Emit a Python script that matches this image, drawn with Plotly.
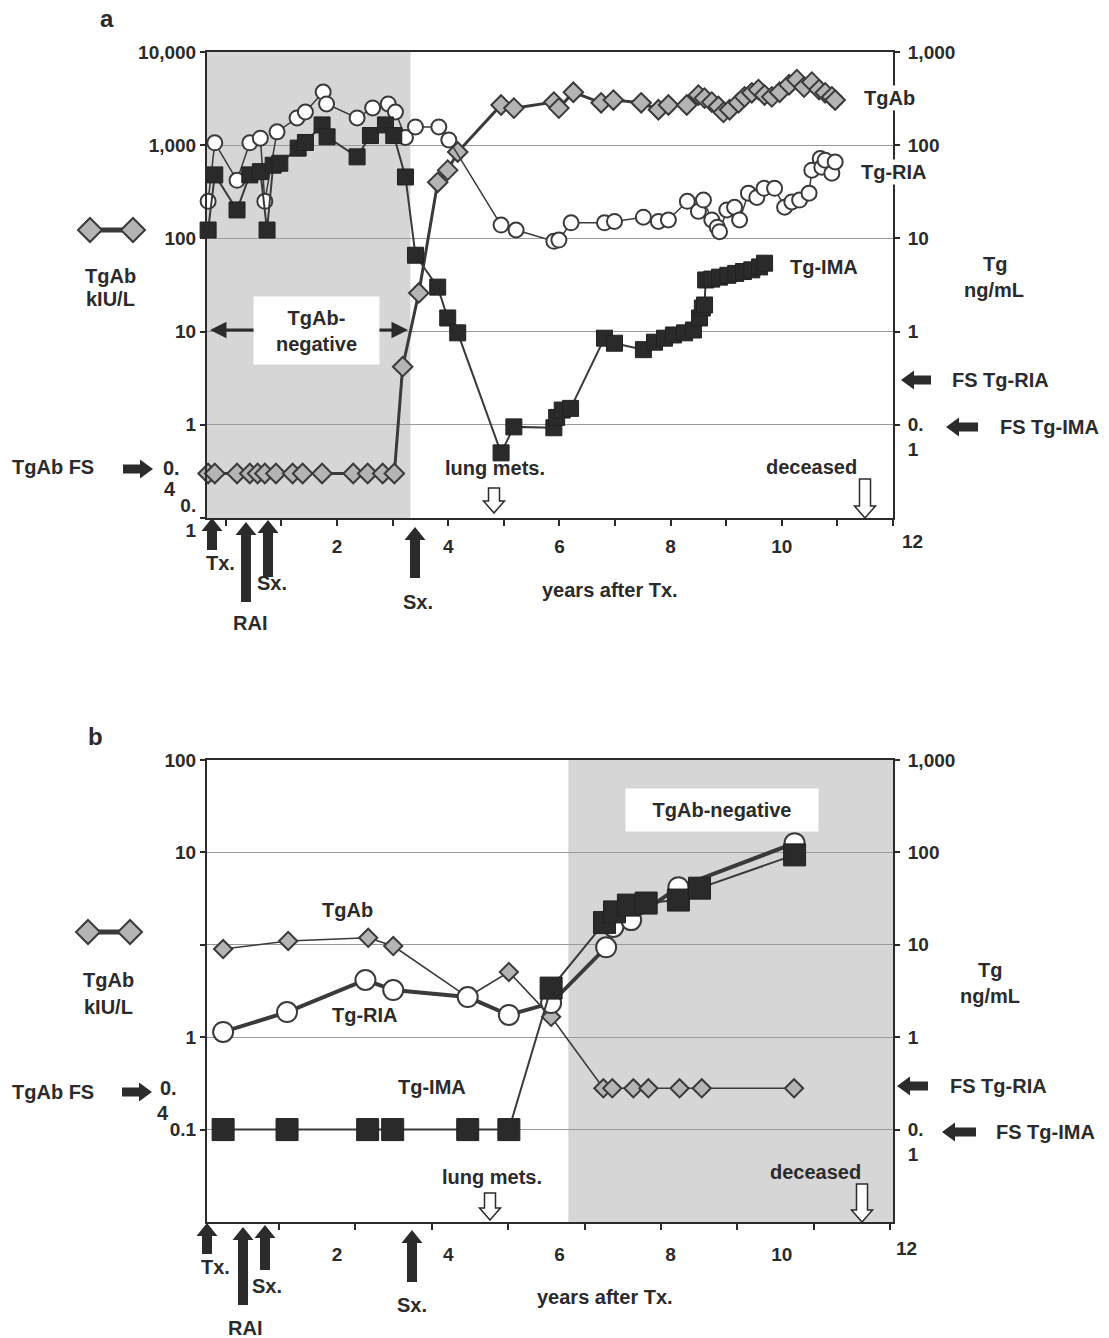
import plotly.graph_objects as go

W, H = 1109, 1338
FONT = "Liberation Sans"
INK = "#2b2b2b"
LINE = "#3a3a3a"
SHADE = "#d6d6d6"
DIAFILL = "#b4b4b4"

# ---------------- data: panel a ----------------
a_tgab_x = [-0.32, -0.20, 0.20, 0.43, 0.57, 0.70, 0.90, 1.20, 1.38, 1.73, 2.29, 2.55, 2.82, 3.03,
            3.18, 3.47, 3.81, 3.99, 4.17, 4.95, 5.18, 5.90, 5.99, 6.25, 6.75, 6.97, 7.47, 7.78, 7.96,
            8.29, 8.50, 8.61, 8.74, 8.86, 8.95, 9.06, 9.22, 9.33, 9.46, 9.58, 9.69, 9.82, 9.96,
            10.13, 10.27, 10.40, 10.54, 10.67, 10.78, 10.90, 10.96]
a_tgab_y = [0.3, 0.3, 0.3, 0.3, 0.3, 0.3, 0.3, 0.3, 0.3, 0.3, 0.3, 0.3, 0.3, 0.3,
            4.2, 26, 400, 540, 845, 2700, 2500, 2900, 2500, 3700, 2850, 3050, 2850, 2400, 2700,
            2700, 3450, 3200, 2900, 2600, 2250, 2400, 2850, 3300, 3650, 3950, 3450, 3300, 3700,
            4450, 5050, 4200, 4750, 3950, 3650, 3300, 3050]

a_ria_x = [-0.32, -0.20, 0.20, 0.43, 0.62, 0.70, 0.92, 1.28, 1.43, 1.75, 1.81, 2.36, 2.64, 2.92,
           3.05, 3.23, 3.41, 3.83, 4.01, 4.95, 5.22, 5.90, 5.99, 6.21, 6.81, 6.99, 7.51, 7.78,
           7.96, 8.30, 8.50, 8.59, 8.74, 8.84, 8.88, 9.01, 9.15, 9.24, 9.40, 9.55, 9.68, 9.87,
           10.05, 10.18, 10.32, 10.49, 10.54, 10.69, 10.72, 10.78, 10.90, 10.96]
a_ria_y = [25, 106, 42, 106, 119, 25, 139, 196, 227, 372, 277, 196, 251, 277,
           227, 121, 157, 157, 114, 13.9, 12.3, 9.3, 9.6, 14.7, 14.7, 15.2, 16.9, 15.2,
           15.8, 25, 19.5, 25.8, 15.8, 13.2, 11.8, 20.2, 21.6, 15.8, 30.6, 27.5, 34.5, 34.5,
           21.6, 24.6, 25.8, 30.6, 54, 72, 58, 69, 50, 66]

a_ima_x = [-0.32, -0.20, 0.20, 0.43, 0.62, 0.74, 0.85, 0.97, 1.30, 1.43, 1.73, 1.82, 2.36, 2.60,
           2.87, 3.02, 3.23, 3.41, 3.81, 3.99, 4.17, 4.95, 5.18, 5.90, 5.95, 6.05, 6.20, 6.81,
           6.99, 7.51, 7.71, 7.89, 8.05, 8.25, 8.41, 8.52, 8.57, 8.61, 8.63, 8.74, 8.88, 9.03,
           9.17, 9.31, 9.46, 9.60, 9.69]
a_ima_y = [12.3, 48, 20.2, 48, 52, 12.3, 61, 64, 93, 107, 165, 123, 75, 127,
           165, 127, 45.6, 6.6, 3.0, 1.40, 0.97, 0.05, 0.095, 0.093, 0.12, 0.144, 0.15, 0.85,
           0.75, 0.64, 0.77, 0.85, 0.92, 0.97, 1.04, 1.40, 1.79, 1.93, 3.58, 3.66, 3.84, 4.02,
           4.21, 4.41, 4.6, 4.94, 5.42]

# ---------------- data: panel b ----------------
b_tgab_x = [-0.05, 1.12, 2.56, 3.01, 4.35, 5.09, 5.85, 6.79, 6.95, 7.33, 7.60, 8.16, 8.56, 10.22]
b_tgab_y = [9.0, 11.0, 11.9, 9.7, 2.72, 5.08, 1.66, 0.28, 0.28, 0.28, 0.28, 0.28, 0.28, 0.28]

b_ria_x = [-0.05, 1.10, 2.51, 3.01, 4.35, 5.09, 5.85, 6.84, 6.97, 7.29, 8.14, 10.23]
b_ria_y = [1.14, 1.87, 4.16, 3.24, 2.72, 1.74, 2.34, 9.4, 15.6, 18.5, 42, 126]

b_ima_x = [-0.05, 1.10, 2.55, 3.00, 4.35, 5.09, 5.85, 6.81, 6.99, 7.24, 7.56, 8.14, 8.52, 10.23]
b_ima_y = [0.1, 0.1, 0.1, 0.1, 0.1, 0.1, 3.4, 17.4, 22.7, 26.9, 28.3, 30.5, 41, 94]

# axis / tick labels
x_tick_vals = [2, 4, 6, 8, 10]
x_tick_text = ["2", "4", "6", "8", "10"]
a_left_vals = [0.1, 1, 10, 100, 1000, 10000]
a_left_text = ["0.<br>1", "1", "10", "100", "1,000", "10,000"]
right_vals = [0.1, 1, 10, 100, 1000]
right_text = [" <br>0.<br>1", "1", "10", "100", "1,000"]
b_left_vals = [0.1, 1, 10, 100, 1000]
b_left_text = ["0.1", "1", "", "10", "100"]

a_neg_end = 3.32      # end of TgAb-negative period, panel a
b_neg_start = 6.16    # start of TgAb-negative period, panel b
b_minor_tick0 = 0.957
b_minor_dtick = 1.3735

# ---------------- geometry helpers (pixels -> paper) ----------------
def px(x):
    return x / W

def py(y):
    return 1 - y / H

def poly(pts, fill, lc=None, lw=0):
    path = "M " + " L ".join(f"{px(x):.5f},{py(y):.5f}" for x, y in pts) + " Z"
    return dict(type="path", xref="paper", yref="paper", path=path, fillcolor=fill,
                line=dict(color=lc or fill, width=lw), layer="above")

def up_arrow(xc, ytop, ybot, shaft=10, head=21, hh=13):
    return poly([(xc, ytop), (xc + head / 2, ytop + hh), (xc + shaft / 2, ytop + hh),
                 (xc + shaft / 2, ybot), (xc - shaft / 2, ybot), (xc - shaft / 2, ytop + hh),
                 (xc - head / 2, ytop + hh)], INK)

def down_hollow(xc, ytop, ybot, shaft=11, head=21, hh=12):
    return poly([(xc, ybot), (xc + head / 2, ybot - hh), (xc + shaft / 2, ybot - hh),
                 (xc + shaft / 2, ytop), (xc - shaft / 2, ytop), (xc - shaft / 2, ybot - hh),
                 (xc - head / 2, ybot - hh)], "white", INK, 1.5)

def h_arrow(x0, x1, yc, left=True, shaft=9, head=19, hl=13):
    if left:
        pts = [(x0, yc), (x0 + hl, yc - head / 2), (x0 + hl, yc - shaft / 2), (x1, yc - shaft / 2),
               (x1, yc + shaft / 2), (x0 + hl, yc + shaft / 2), (x0 + hl, yc + head / 2)]
    else:
        pts = [(x1, yc), (x1 - hl, yc - head / 2), (x1 - hl, yc - shaft / 2), (x0, yc - shaft / 2),
               (x0, yc + shaft / 2), (x1 - hl, yc + shaft / 2), (x1 - hl, yc + head / 2)]
    return poly(pts, INK)

def diamond(xc, yc, r=12):
    return poly([(xc, yc - r), (xc + r, yc), (xc, yc + r), (xc - r, yc)], DIAFILL, LINE, 2)

def legend_glyph(x0, x1, yc):
    return [dict(type="line", xref="paper", yref="paper", x0=px(x0), x1=px(x1), y0=py(yc), y1=py(yc),
                 line=dict(color=LINE, width=5), layer="above"),
            diamond(x0, yc), diamond(x1, yc)]

def txt(x, y, s, size=20, bg=None, xanchor="center", **kw):
    d = dict(x=px(x), y=py(y), xref="paper", yref="paper", text=s, showarrow=False,
             xanchor=xanchor, yanchor="middle",
             font=dict(family=FONT, size=size, color=INK, weight="bold"))
    if bg:
        d["bgcolor"] = bg
    d.update(kw)
    return d

def line_arrow(xh, xt, y):
    return dict(x=px(xh), y=py(y), xref="paper", yref="paper", ax=xt - xh, ay=0, text="",
                showarrow=True, arrowhead=2, arrowsize=1.1, arrowwidth=3, arrowcolor=INK)

# ---------------- figure ----------------
XD = [207 / W, 893 / W]
YA = [1 - 518 / H, 1 - 52 / H]
YB = [1 - 1222 / H, 1 - 760 / H]

fig = go.Figure()

def add_series(x, y, xa, ya, kind, panel):
    if kind == "tgab":
        m = dict(symbol="diamond", size=15 if panel == "a" else 14, color=DIAFILL,
                 line=dict(color=LINE, width=2))
        lw = 3 if panel == "a" else 1.6
    elif kind == "ria":
        m = dict(symbol="circle", size=15 if panel == "a" else 20, color="white",
                 line=dict(color=LINE, width=2))
        lw = 1.5 if panel == "a" else 4
    else:
        m = dict(symbol="square", size=16 if panel == "a" else 22, color="#2a2a2a",
                 line=dict(color="#222", width=1))
        lw = 2
    fig.add_trace(go.Scatter(x=x, y=y, xaxis=xa, yaxis=ya, mode="lines+markers",
                             line=dict(color=LINE, width=lw), marker=m, cliponaxis=False,
                             showlegend=False, hoverinfo="skip"))

add_series(a_tgab_x, a_tgab_y, "x", "y", "tgab", "a")
add_series(a_ria_x, a_ria_y, "x", "y2", "ria", "a")
add_series(a_ima_x, a_ima_y, "x", "y2", "ima", "a")
add_series(b_tgab_x, b_tgab_y, "x2", "y3", "tgab", "b")
add_series(b_ria_x, b_ria_y, "x2", "y4", "ria", "b")
add_series(b_ima_x, b_ima_y, "x2", "y4", "ima", "b")

tickfont = dict(family=FONT, size=19, color=INK, weight="bold")
common_x = dict(domain=XD, range=[-0.34, 12], tickvals=x_tick_vals, ticktext=x_tick_text,
                showline=True, linewidth=2, linecolor=INK, mirror=True, showgrid=False,
                zeroline=False, tickfont=tickfont, ticks="outside", ticklen=6, tickwidth=2,
                automargin=False)
left_common = dict(type="log", range=[-1, 4], showline=True, linewidth=2, linecolor=INK,
                   showgrid=False, zeroline=False, ticks="outside", ticklen=5, tickwidth=1.5,
                   tickcolor=INK, tickfont=tickfont, automargin=False)
right_common = dict(type="log", range=[-2, 3], side="right", showline=True, linewidth=2,
                    linecolor=INK, showgrid=True, gridcolor="#9a9a9a", gridwidth=1,
                    zeroline=False, ticks="outside", ticklen=5, tickwidth=1.5, tickcolor=INK,
                    tickfont=tickfont, tickvals=right_vals, ticktext=right_text,
                    ticklabelstandoff=4, automargin=False)

fig.update_layout(
    width=W, height=H, autosize=False,
    margin=dict(l=0, r=0, t=0, b=0, pad=0),
    paper_bgcolor="white", plot_bgcolor="white",
    font=dict(family=FONT, color=INK),
    showlegend=False,
    xaxis=dict(anchor="y", tickcolor=INK, ticklabelstandoff=4,
               minor=dict(tickmode="linear", tick0=0, dtick=1, ticks="outside", ticklen=6,
                          tickwidth=2, tickcolor=INK),
               **common_x),
    xaxis2=dict(anchor="y3", tickcolor="rgba(0,0,0,0)", ticklabelstandoff=8,
                minor=dict(tickmode="linear", tick0=b_minor_tick0, dtick=b_minor_dtick,
                           ticks="outside", ticklen=6, tickwidth=2, tickcolor=INK),
                **common_x),
    yaxis=dict(domain=YA, anchor="x", tickvals=a_left_vals, ticktext=a_left_text, **left_common),
    yaxis2=dict(overlaying="y", anchor="x", **right_common),
    yaxis3=dict(domain=YB, anchor="x2", **{**left_common, "range": [-2, 3]},
                tickvals=b_left_vals, ticktext=b_left_text),
    yaxis4=dict(overlaying="y3", anchor="x2", **right_common),
)

shapes = [
    dict(type="rect", xref="x", yref="y domain", x0=-0.34, x1=a_neg_end, y0=0, y1=1,
         fillcolor=SHADE, line=dict(width=0), layer="below"),
    dict(type="rect", xref="x2", yref="y3 domain", x0=b_neg_start, x1=12, y0=0, y1=1,
         fillcolor=SHADE, line=dict(width=0), layer="below"),
]
# event arrows below the axes
shapes += [up_arrow(212, 518, 550), up_arrow(246, 522, 602), up_arrow(268, 520, 577),
           up_arrow(415, 527, 578)]
shapes += [up_arrow(207, 1223, 1254), up_arrow(243, 1227, 1305), up_arrow(265, 1225, 1270),
           up_arrow(412, 1230, 1282)]
# hollow arrows
shapes += [down_hollow(494, 488, 513), down_hollow(865, 479, 518),
           down_hollow(490, 1193, 1220), down_hollow(862, 1184, 1222)]
# FS arrows
shapes += [h_arrow(123, 153, 469, left=False), h_arrow(901, 931, 380), h_arrow(946, 978, 427),
           h_arrow(122, 152, 1092, left=False), h_arrow(897, 928, 1086), h_arrow(942, 976, 1132)]
# legend glyphs
shapes += legend_glyph(90, 133, 230) + legend_glyph(88, 130, 932)

annotations = [
    # panel a
    txt(107, 18, "a", size=24),
    txt(110, 276, "TgAb"), txt(110, 299, "kIU/L"),
    txt(53, 467, "TgAb FS"),
    txt(171, 468, "0."), txt(170, 489, "4"),
    txt(889, 98, "TgAb", bg="white"),
    txt(894, 172, "Tg-RIA", bg="white"),
    txt(824, 267, "Tg-IMA"),
    txt(995, 264, "Tg"), txt(994, 290, "ng/mL"),
    txt(1000, 380, "FS Tg-RIA"),
    txt(1049, 427, "FS Tg-IMA"),
    dict(x=px(316), y=py(330), xref="paper", yref="paper", text="TgAb-<br>negative",
         showarrow=False, bgcolor="white", width=123, height=65, xanchor="center",
         yanchor="middle", font=dict(family=FONT, size=20, color=INK, weight="bold")),
    line_arrow(210, 255, 330), line_arrow(408, 378, 330),
    txt(495, 468, "lung mets."), txt(811, 467, "deceased"),
    txt(220, 563, "Tx."), txt(272, 583, "Sx."), txt(250, 623, "RAI"), txt(418, 602, "Sx."),
    txt(610, 590, "years after Tx."),
    txt(912, 541, "12", size=19),
    # panel b
    txt(95, 736, "b", size=24),
    txt(108, 980, "TgAb"), txt(108, 1007, "kIU/L"),
    txt(53, 1092, "TgAb FS"),
    txt(168, 1088, "0."), txt(163, 1113, "4"),
    txt(347, 910, "TgAb"), txt(365, 1015, "Tg-RIA"), txt(432, 1087, "Tg-IMA"),
    txt(990, 970, "Tg"), txt(990, 996, "ng/mL"),
    txt(998, 1086, "FS Tg-RIA"),
    txt(1045, 1132, "FS Tg-IMA"),
    dict(x=px(722), y=py(810), xref="paper", yref="paper", text="TgAb-negative",
         showarrow=False, bgcolor="white", width=190, height=40, xanchor="center",
         yanchor="middle", font=dict(family=FONT, size=20, color=INK, weight="bold")),
    txt(492, 1177, "lung mets."), txt(815, 1172, "deceased"),
    txt(215, 1267, "Tx."), txt(245, 1328, "RAI"), txt(267, 1286, "Sx."), txt(412, 1305, "Sx."),
    txt(605, 1297, "years after Tx."),
    txt(906, 1248, "12", size=19),
]

fig.update_layout(shapes=shapes, annotations=annotations)
fig.write_html("out.html")
